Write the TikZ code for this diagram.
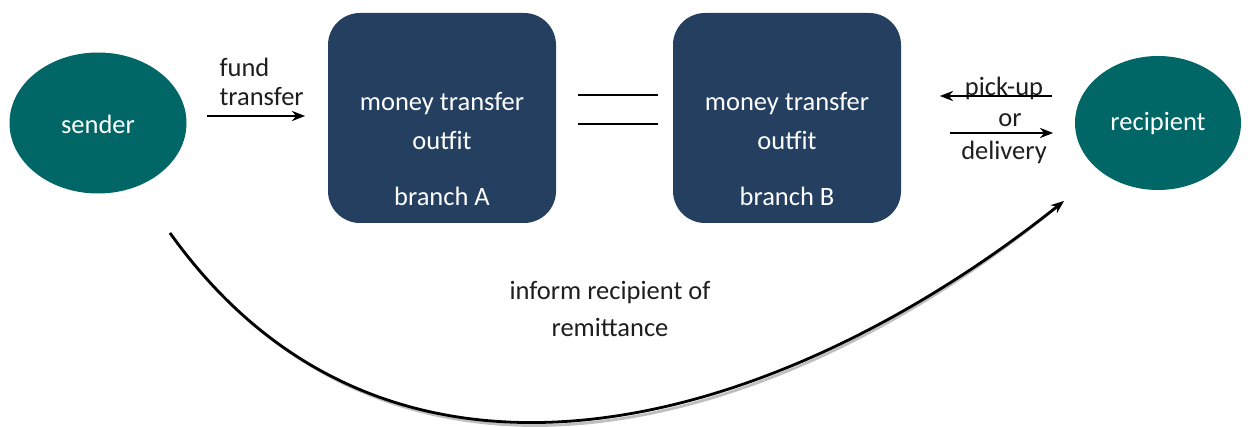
\documentclass[tikz,border=0pt]{standalone}
\usepackage{fontspec}
\setmainfont{Carlito}
\usetikzlibrary{shapes.geometric,arrows.meta}
\definecolor{teal1}{RGB}{0,102,102}
\definecolor{navy1}{RGB}{36,63,96}
\definecolor{txt}{RGB}{30,30,30}
\begin{document}
\begin{tikzpicture}[x=1pt,y=-1pt,
  every node/.style={font=\fontsize{26.5}{30}\selectfont},
  oval/.style={ellipse,fill=teal1,text=white,inner sep=0pt},
  outfit/.style={rounded corners=32pt,fill=navy1,minimum width=228pt,minimum height=210pt,inner sep=0pt},
  wtext/.style={text=white},
  ltext/.style={text=txt},
  conn/.style={line width=2.8pt,black},
  shade/.style={line width=2.8pt,black!25},
  tip/.style={-{Stealth[length=13pt,width=10pt]}}
]
\useasboundingbox (0,0) rectangle (1249,427);

% nodes
\node[oval,minimum width=177pt,minimum height=141pt] (sender) at (98,123) {};
\node[wtext] (senderT) at (98,124) {sender};
\node[oval,minimum width=166pt,minimum height=134pt] (recip) at (1158,123) {};
\node[wtext] (recipT) at (1158,124) {recipient};

\node[outfit] (A) at (442,118) {};
\node[outfit] (B) at (787,118) {};
\node[wtext] (A1) at (442,104) {money transfer};
\node[wtext] (A2) at (442,140) {outfit};
\node[wtext] (A3) at (442,196) {branch A};
\node[wtext] (B1) at (787,104) {money transfer};
\node[wtext] (B2) at (787,140) {outfit};
\node[wtext] (B3) at (787,196) {branch B};

% labels
\node[ltext,anchor=west] (fund) at (216,67) {fund};
\node[ltext,anchor=west] (transfer) at (216,97) {transfer};
\node[ltext] (pick) at (1004,88) {pick-up};
\node[ltext] (or) at (1010,120) {or};
\node[ltext] (deliv) at (1004,152) {delivery};
\node[ltext] (inf1) at (610,293) {inform recipient of};
\node[ltext] (inf2) at (610,327) {remittance};

% coordinates for connector ends
\coordinate (f1) at (207,116);
\coordinate (f2) at (305,116);
\coordinate (l1a) at (578,95);
\coordinate (l1b) at (658,95);
\coordinate (l2a) at (578,124);
\coordinate (l2b) at (658,124);
\coordinate (p1) at (1052,96);
\coordinate (p2) at (940,96);
\coordinate (d1) at (950,133);
\coordinate (d2) at (1053,133);
\coordinate (c1) at (170,233);
\coordinate (c2) at (1064,201);

% shadows
\begin{scope}[shift={(4pt,-4pt)}]
\draw[shade,tip] (f1) -- (f2);
\draw[shade] (l1a) -- (l1b);
\draw[shade] (l2a) -- (l2b);
\draw[shade,tip] (p1) -- (p2);
\draw[shade,tip] (d1) -- (d2);
\draw[shade,tip] (c1) .. controls (392,544) and (781,427) .. (c2);
\end{scope}

% connectors
\draw[conn,tip] (f1) -- (f2);
\draw[conn] (l1a) -- (l1b);
\draw[conn] (l2a) -- (l2b);
\draw[conn,tip] (p1) -- (p2);
\draw[conn,tip] (d1) -- (d2);
\draw[conn,tip] (c1) .. controls (392,544) and (781,427) .. (c2);
\end{tikzpicture}
\end{document}
